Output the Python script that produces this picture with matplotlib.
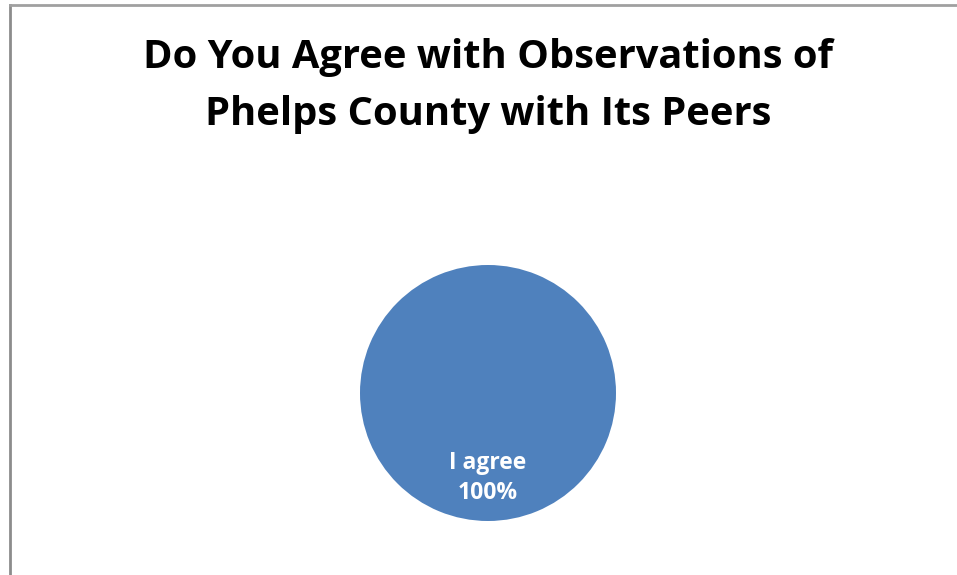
import matplotlib.pyplot as plt
from matplotlib.lines import Line2D

labels = ['I agree']
values = [100]
colors = ['#4F81BD']

title = 'Do You Agree with Observations of\nPhelps County with Its Peers'

fig = plt.figure(figsize=(9.57, 5.75), dpi=100)

# chart border (left and top visible)
fig.add_artist(Line2D([10 / 957, 10 / 957], [0, 1 - 5 / 575], color='#8c8c8c', lw=2))
fig.add_artist(Line2D([10 / 957, 1], [1 - 5 / 575, 1 - 5 / 575], color='#a0a0a0', lw=2))

ax = fig.add_axes([(488 - 128) / 957, 54 / 575, 256 / 957, 256 / 575])


def fmt(pct):
    return '{}\n{:.0f}%'.format(labels[0], pct)


wedges, texts, autotexts = ax.pie(values, colors=colors, startangle=90,
                                  autopct=fmt, pctdistance=0.665,
                                  wedgeprops=dict(linewidth=0))
for t in autotexts:
    t.set_color('white')
    t.set_fontsize(16.5)
    t.set_fontweight('bold')
    t.set_family('Open Sans')
    t.set_linespacing(1.35)
ax.set_xlim(-1, 1)
ax.set_ylim(-1, 1)

fig.text(488 / 957, 1 - 86 / 575, title, ha='center', va='center',
         fontsize=28.7, fontweight='bold', family='Open Sans', linespacing=1.6)

fig.savefig('out.png', dpi=100)
